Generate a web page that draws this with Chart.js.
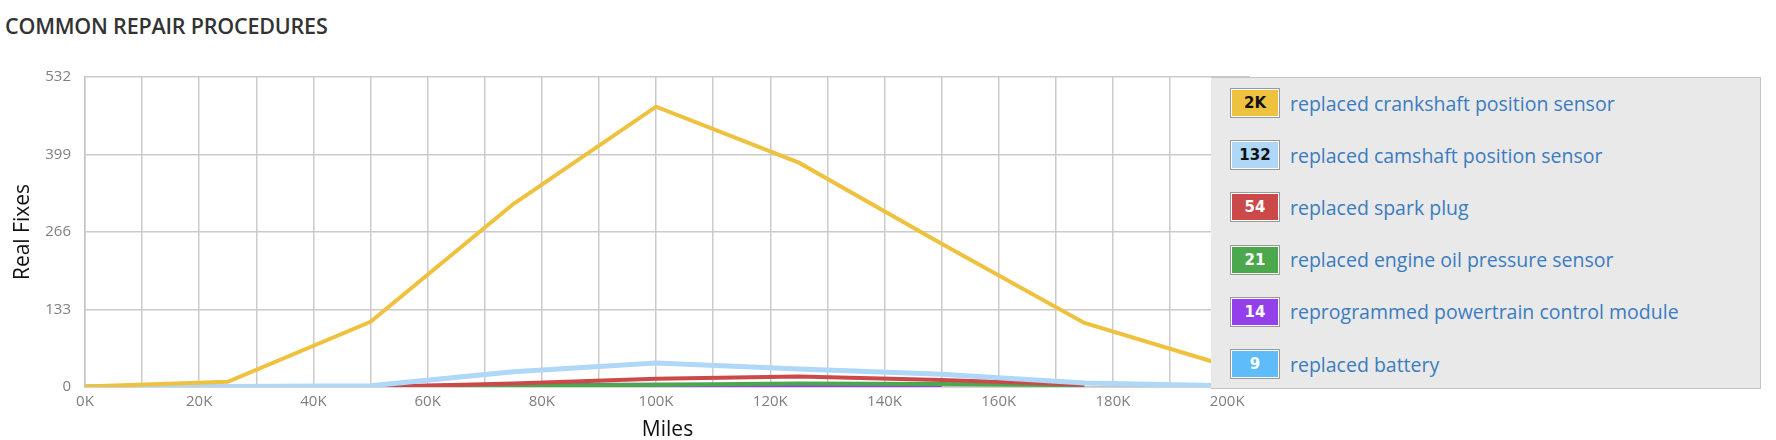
<!DOCTYPE html>
<html>
<head>
<meta charset="utf-8">
<script src="https://cdn.jsdelivr.net/npm/chart.js@4/dist/chart.umd.min.js"></script>
<style>
  html, body { margin: 0; padding: 0; background: #fff; }
  body { width: 1776px; height: 440px; position: relative; overflow: hidden; font-family: 'Open Sans', sans-serif; }
  #chartTitle { position: absolute; left: 5px; top: 11px; font-size: 21.5px; font-weight: 600; color: #333; letter-spacing: -0.2px; }
  #chartWrap { position: absolute; left: 0; top: 0; width: 1776px; height: 440px; }
  #legendBox {
    position: absolute; left: 1211px; top: 77px; width: 550px; height: 312px;
    background: #e9e9e9; border: 1px solid #c4c4c4; border-left: none; box-sizing: border-box;
  }
  .legend-row { position: absolute; left: 19px; height: 30px; display: flex; align-items: center; }
  .legend-swatch {
    width: 50px; height: 30px; box-sizing: border-box; border: 1px solid #9a9a9a;
    box-shadow: inset 0 0 0 1px #fff; display: flex; align-items: center; justify-content: center;
    font-size: 15px; font-weight: 700; font-family: 'DejaVu Sans', sans-serif;
  }
  .legend-label { margin-left: 10px; font-size: 19.5px; color: #3a7cc0; white-space: nowrap; }
</style>
</head>
<body>
<div id="chartTitle">COMMON REPAIR PROCEDURES</div>
<div id="chartWrap"><canvas id="repairChart" width="1776" height="440"></canvas></div>
<div id="legendBox"></div>
<script>
const miles = [0, 25000, 50000, 75000, 100000, 125000, 150000, 175000, 200000];

const seriesNames = [
  'replaced crankshaft position sensor',
  'replaced camshaft position sensor',
  'replaced spark plug',
  'replaced engine oil pressure sensor',
  'reprogrammed powertrain control module',
  'replaced battery'
];
const seriesTotals = ['2K', '132', '54', '21', '14', '9'];
const seriesColors = ['#eec13f', '#aed7f8', '#cc4949', '#4ca84c', '#9340ec', '#5ebcfb'];
const swatchText = ['#111', '#111', '#fff', '#fff', '#fff', '#fff'];

const crankshaft = [1, 9, 112, 314, 481, 385, 246, 110, 36];
const camshaft = [0, 1, 2, 26, 41, 31, 22, 7, 2];
const sparkPlug = [0, 0, 0, 6, 14, 18, 12, 4];
const oilPressure = [0, 0, 1, 2, 4, 6, 5, 3];
const pcm = [0, 0, 1, 4, 4, 3, 2];
const battery = [1, 1, 1, 2, 2, 1, 1];

const seriesValues = [crankshaft, camshaft, sparkPlug, oilPressure, pcm, battery];

const yTicks = [0, 133, 266, 399, 532];

function toPoints(values) {
  return values.map((value, i) => ({ x: miles[i], y: value }));
}

const datasets = seriesNames.map((name, i) => ({
  label: name,
  data: toPoints(seriesValues[i]),
  borderColor: seriesColors[i],
  backgroundColor: seriesColors[i],
  borderWidth: i === 1 ? 5 : 4,
  pointRadius: 0,
  tension: 0,
  fill: false
}));

new Chart(document.getElementById('repairChart'), {
  type: 'line',
  data: { datasets },
  options: {
    responsive: false,
    animation: false,
    events: [],
    layout: { padding: { left: 0, right: 526, top: 77, bottom: 0 } },
    plugins: {
      legend: { display: false },
      tooltip: { enabled: false }
    },
    scales: {
      x: {
        type: 'linear',
        min: 0,
        max: 204000,
        afterBuildTicks(scale) {
          scale.ticks = [];
          for (let v = 0; v <= 200000; v += 10000) scale.ticks.push({ value: v });
        },
        afterFit(scale) { scale.height = 53; },
        grid: { color: '#cbcbcb', lineWidth: 1.5, drawTicks: false },
        border: { color: '#c4c4c4', width: 1.5 },
        ticks: {
          autoSkip: false,
          maxRotation: 0,
          padding: 6,
          color: '#7f7f7f',
          font: { family: 'Open Sans', size: 15 },
          callback: (value) => value % 20000 === 0 ? `${value / 1000}K` : ''
        },
        title: {
          display: true,
          text: 'Miles',
          color: '#111',
          font: { family: 'Open Sans', size: 21 },
          padding: { top: 0, bottom: -3 }
        }
      },
      y: {
        min: 0,
        max: 532,
        afterBuildTicks(scale) {
          scale.ticks = yTicks.map((v) => ({ value: v }));
        },
        afterFit(scale) { scale.width = 85; },
        grid: { color: '#cbcbcb', lineWidth: 1.5, drawTicks: false },
        border: { color: '#c4c4c4', width: 1.5 },
        ticks: {
          padding: 14,
          color: '#7f7f7f',
          font: { family: 'Open Sans', size: 15 }
        },
        title: {
          display: true,
          text: 'Real Fixes',
          color: '#111',
          font: { family: 'Open Sans', size: 21 },
          padding: { top: 10, bottom: 0 }
        }
      }
    }
  }
});

// legend overlay, built from the same arrays
const legendBox = document.getElementById('legendBox');
legendBox.innerHTML = seriesNames.map((name, i) => `
  <div class="legend-row" style="top:${10 + i * 52.2}px">
    <div class="legend-swatch" style="background:${seriesColors[i]};color:${swatchText[i]}">${seriesTotals[i]}</div>
    <span class="legend-label">${name}</span>
  </div>
`).join('');
</script>
</body>
</html>
